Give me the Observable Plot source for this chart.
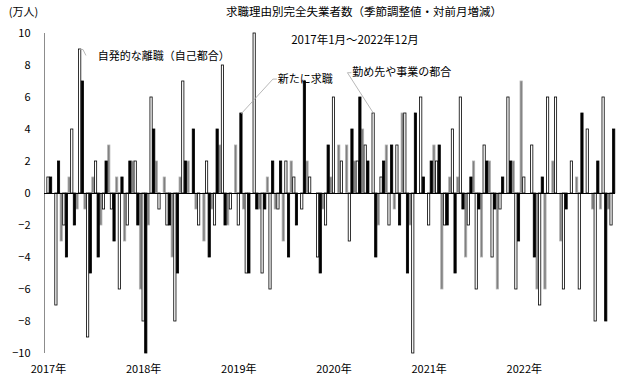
<!DOCTYPE html>
<html><head><meta charset="utf-8">
<script src="https://cdn.jsdelivr.net/npm/d3@7"></script>
<script src="https://cdn.jsdelivr.net/npm/@observablehq/plot@0.6"></script>
<style>
body{margin:0;background:#fff;}
#chart svg{font-family:"Noto Sans CJK JP","Noto Sans",sans-serif;}
</style></head><body><div id="chart"></div>
<script>
const years = ["2017年","2018年","2019年","2020年","2021年","2022年"];
const seriesNames = ["勤め先や事業の都合","自発的な離職（自己都合）","新たに求職"];
// 対前月増減（万人）, 2017年1月～2022年12月
const kinmu = [
  0,0,-3,1,-1,-1,1,-2,3,1,-3,2,
  -6,-2,2,1,-4,1,2,-1,-3,-1,3,-2,
  3,-1,0,-1,1,-1,-3,2,0,2,0,-1,
  1,3,3,2,4,0,-2,3,-1,5,-2,0,
  0,3,-6,1,1,-4,2,-4,2,-6,0,2,
  7,0,-6,-6,2,-3,0,1,0,-1,-1,-1];
const jihatsu = [
  1,-7,-2,4,9,-9,2,-1,-1,-6,-2,2,
  -8,6,-1,-2,-8,7,0,-2,2,-2,8,-1,
  -2,-5,10,-5,-6,-1,2,1,-1,1,-4,-2,
  6,2,-3,2,3,5,1,-2,3,5,-10,6,
  -2,2,-2,4,6,-2,-6,3,-4,-1,6,-6,
  1,3,-7,6,6,-6,2,-6,4,-8,6,-2];
const shinki = [
  1,2,-4,-2,7,-5,-4,2,-3,1,2,-2,
  -10,4,0,-2,-5,2,4,0,-4,4,-2,0,
  5,-5,-1,-1,2,2,-4,-2,7,0,-5,3,
  0,0,4,6,2,-4,2,3,-2,-5,5,1,
  2,3,-2,-5,-1,1,-1,2,-1,1,2,-3,
  0,-4,1,0,0,-1,0,5,0,2,-8,4];

const rows = [];
[kinmu, jihatsu, shinki].forEach((arr, k) =>
  arr.forEach((v, i) => rows.push({i, k, v, series: seriesNames[k]})));

// annotations: anchor bar (month index, series index) and label position (month, value)
const notes = [
  {label: "自発的な離職（自己都合）", m: 4, k: 1, tx: 6.7, ty: 8.55},
  {label: "新たに求職", m: 24, k: 2, tx: 29.4, ty: 7.15},
  {label: "勤め先や事業の都合", m: 41, k: 1, tx: 38.8, ty: 7.55}
];
const vals = [kinmu, jihatsu, shinki];
const leaders = [];
notes.forEach((n, j) => {
  const v = vals[n.k][n.m];
  const bx = n.m + (n.k + 0.5) / 3;
  leaders.push({j, x: bx, y: v});
  if (j === 0) {
    leaders.push({j, x: bx + 0.35, y: v});
    leaders.push({j, x: bx + 0.7, y: v - 0.35});
  } else {
    leaders.push({j, x: n.tx - 0.6, y: n.ty});
    leaders.push({j, x: n.tx - 0.15, y: n.ty});
  }
});

const styles = [
  {fill: "#808080", stroke: "#b0b0b0"},
  {fill: "#ffffff", stroke: "#000000"},
  {fill: "#000000", stroke: "#000000"}
];

const chart = Plot.plot({
  width: 630, height: 390,
  marginTop: 33, marginBottom: 37, marginLeft: 44, marginRight: 15,
  style: {fontSize: "11px", color: "#000", background: "#fff"},
  x: {domain: [0, 72], axis: null},
  y: {domain: [-10, 10], axis: null},
  marks: [
    Plot.ruleX([0], {stroke: "#8c8c8c", strokeWidth: 1}),
    ...[0, 1, 2].map(k => Plot.rectY(rows.filter(d => d.k === k), {
      x1: d => d.i + d.k / 3,
      x2: d => d.i + (d.k + 1) / 3,
      y1: 0, y2: "v",
      fill: styles[k].fill, stroke: styles[k].stroke, strokeWidth: 0.8,
      insetLeft: 0.2, insetRight: 0.2
    })),
    Plot.ruleY([0], {stroke: "#000", strokeWidth: 1}),
    Plot.line(leaders, {x: "x", y: "y", z: "j", stroke: "#a6a6a6", strokeWidth: 0.8}),
    Plot.text(notes, {x: "tx", y: "ty", text: "label", textAnchor: "start", fontSize: 11, fill: "#000"}),
    Plot.axisY(d3.range(-10, 11, 2), {tickSize: 0, tickPadding: 14, fontSize: 11, fill: "#000"}),
    Plot.axisX(years.map((_, j) => 12 * j + 0.5), {
      tickFormat: d => years[Math.round((d - 0.5) / 12)],
      tickSize: 0, tickPadding: 12, fontSize: 11, fill: "#000"
    }),
    Plot.text(["求職理由別完全失業者数（季節調整値・対前月増減）"], {frameAnchor: "top", dx: 34, dy: -21, lineAnchor: "middle", fontSize: 11.5, fill: "#000"}),
    Plot.text(["2017年1月～2022年12月"], {frameAnchor: "top", dx: 25, dy: 7, lineAnchor: "middle", fontSize: 11.5, fill: "#000"}),
    Plot.text(["(万人)"], {frameAnchor: "top-left", dx: -21, dy: -21, lineAnchor: "middle", textAnchor: "middle", fontSize: 11, fill: "#000"})
  ]
});
document.getElementById("chart").appendChild(chart);
</script>
</body></html>
